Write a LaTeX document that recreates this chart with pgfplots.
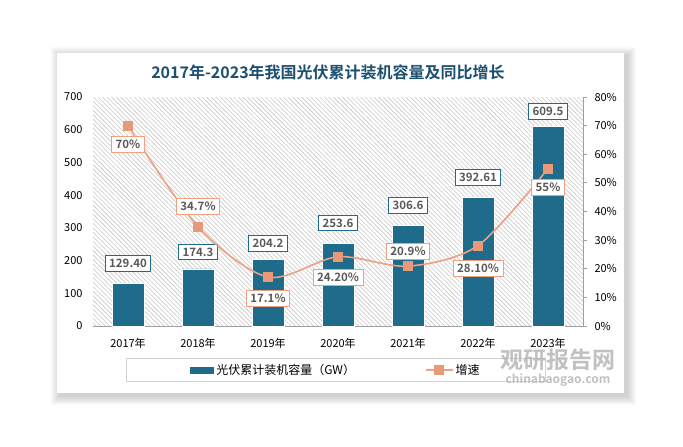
\documentclass[border=0pt]{standalone}
\usepackage{fontspec}
\setmainfont{Noto Sans CJK SC}[BoldFont={Noto Sans CJK SC Bold}]
\usepackage{pgfplots}
\pgfplotsset{compat=1.18}
\usepackage{pgfplotstable}
\usetikzlibrary{patterns.meta}

\definecolor{barblue}{RGB}{31,107,140}
\definecolor{lineor}{RGB}{238,160,128}
\definecolor{markor}{RGB}{232,154,120}
\definecolor{labgray}{RGB}{89,89,89}
\definecolor{titleblue}{RGB}{28,80,110}
\definecolor{hatch}{RGB}{200,200,200}

\pgfplotsset{
  barlegend/.style={legend image code/.code={\fill[barblue] (0pt,-3pt) rectangle (23pt,3pt);}},
  linelegend/.style={legend image code/.code={\draw[mark repeat=2,mark phase=2,##1] plot coordinates {(0pt,0pt) (13.5pt,0pt) (27pt,0pt)};}},
}

% installed capacity (GW), label text, label offset (pt)
\pgfplotstableread{
x y lab off
0 129.40 129.40 20
1 174.3 174.3 17
2 204.2 204.2 16
3 253.6 253.6 20
4 306.6 306.6 20
5 392.61 392.61 20
6 609.5 609.5 15
}\capdata

% growth rate (%)
\pgfplotstableread{
x y lab off
0 70 70 -19
1 34.7 34.7 20
2 17.1 17.1 -21
3 24.2 24.20 -21
4 20.9 20.9 15
5 28.1 28.10 -23
6 55 55 -19
}\growdata

\begin{document}
\begin{tikzpicture}
\path[use as bounding box] (0pt,0pt) rectangle (683pt,-447pt);
\fill[white] (0pt,0pt) rectangle (683pt,-447pt);
% card shadow
\foreach \i in {1,...,9}{
  \fill[black, opacity=0.018] ({57pt+3pt-\i pt},{-53pt-3pt+\i pt}) rectangle ({624pt+3pt+\i pt},{-393pt-3pt-\i pt});
}
\fill[white] (57pt,-53pt) rectangle (624pt,-393pt);

\begin{axis}[
  at={(93pt,-326pt)}, anchor=south west,
  scale only axis, width=490pt, height=229pt,
  xmin=-0.5, xmax=6.5, ymin=0, ymax=700,
  axis x line*=bottom, axis y line*=left,
  x axis line style={draw=gray!75, line width=0.8pt},
  y axis line style={draw=none},
  xtick={0,...,6},
  xticklabels={2017年,2018年,2019年,2020年,2021年,2022年,2023年},
  ytick={0,100,...,700},
  major tick length=0pt,
  tick style={draw=none},
  xticklabel style={yshift=-9pt},
  yticklabel style={xshift=-7pt},
  /pgf/number format/assume math mode=true,
  ticklabel style={font=\fontsize{11}{12}\selectfont, text=black},
  axis background/.style={pattern={Lines[angle=-45,distance=3.2pt,line width=0.6pt]}, pattern color=hatch},
  ybar, bar width=32pt,
  clip=false,
]
\addplot[fill=barblue, draw=white, line width=0.6pt,
  nodes near coords, point meta=explicit symbolic,
  visualization depends on={\thisrow{off} \as \myoff},
  every node near coord/.append style={anchor=center, yshift=\myoff pt,
    draw=barblue, fill=white, line width=0.8pt, text=labgray,
    font=\fontsize{11.5}{12}\selectfont\bfseries, inner xsep=4pt, inner ysep=3.5pt}
] table[x=x, y=y, meta=lab] {\capdata};
\end{axis}

\begin{axis}[
  at={(93pt,-326pt)}, anchor=south west,
  scale only axis, width=490pt, height=229pt,
  xmin=-0.5, xmax=6.5, ymin=0, ymax=80,
  axis x line=none, axis y line*=right,
  y axis line style={draw=gray!75, line width=0.8pt},
  ytick={0,10,...,80},
  yticklabel={\pgfmathprintnumber{\tick}\%},
  tick align=outside, major tick length=4pt,
  tick style={draw=gray!75, line width=0.8pt},
  yticklabel style={xshift=4pt},
  /pgf/number format/assume math mode=true,
  ticklabel style={font=\fontsize{11}{12}\selectfont, text=black},
  legend style={at={(0.496,-0.192)}, anchor=center, draw=gray!35, line width=0.8pt,
    fill=white, legend columns=2, inner xsep=64pt, inner ysep=4pt,
    font=\fontsize{12}{14}\selectfont,
    /tikz/every even column/.append style={column sep=68pt}},
  legend cell align=left,
  clip=false,
]
\addlegendimage{barlegend}
\addlegendentry{光伏累计装机容量（GW）}
\addplot[lineor, line width=1.6pt, smooth, mark=square*, mark size=4.5pt,
  mark options={fill=markor, draw=markor, line width=0pt},
  linelegend,
  nodes near coords={\pgfplotspointmeta\%}, point meta=explicit symbolic,
  visualization depends on={\thisrow{off} \as \myoff},
  every node near coord/.append style={anchor=center, yshift=\myoff pt,
    draw=lineor, fill=white, line width=0.9pt, text=labgray,
    font=\fontsize{11.5}{12}\selectfont\bfseries, inner xsep=4pt, inner ysep=3.5pt}
] table[x=x, y=y, meta=lab] {\growdata};
\addlegendentry{增速}
\end{axis}

\node[font=\fontsize{16}{18}\selectfont\bfseries, text=titleblue] at (328pt,-72pt) {2017年-2023年我国光伏累计装机容量及同比增长};
% watermark
\node[font=\fontsize{23}{25}\selectfont\bfseries, text=gray!60, opacity=0.8] at (558pt,-360pt) {观研报告网};
\node[font=\fontsize{12}{14}\selectfont\bfseries, text=gray!60, opacity=0.8] at (558pt,-380pt) {chinabaogao.com};
\end{tikzpicture}
\end{document}
